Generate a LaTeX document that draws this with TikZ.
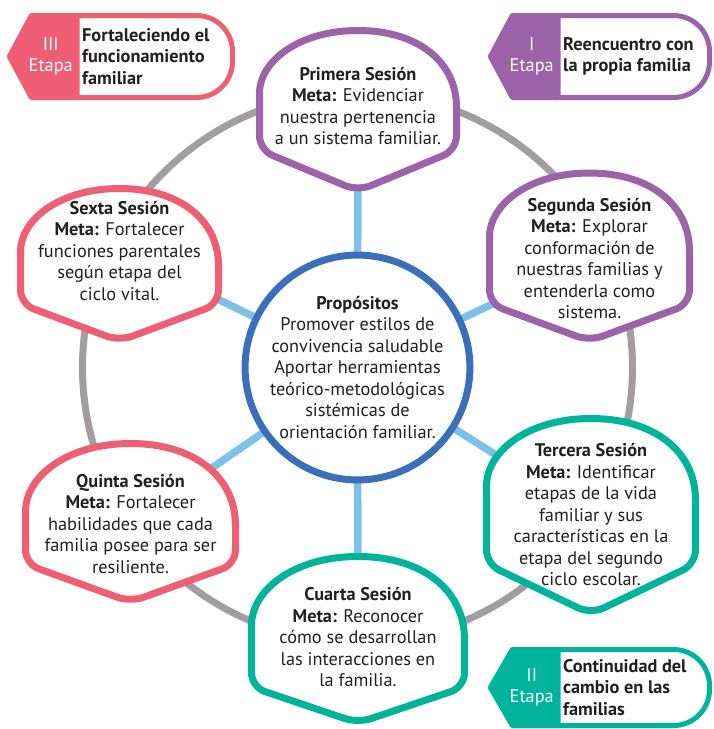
\documentclass[tikz,border=0pt]{standalone}
\usepackage{fontspec}
\setmainfont{PT Sans}
\usetikzlibrary{positioning,backgrounds}
\definecolor{ink}{HTML}{231F20}
\definecolor{purp}{HTML}{9C63A9}
\definecolor{rosa}{HTML}{EF5F73}
\definecolor{verde}{HTML}{00B49C}
\definecolor{azul}{HTML}{3A70B8}
\definecolor{celeste}{HTML}{7DC1EA}
\definecolor{gris}{HTML}{A29DA0}

\begin{document}
\begin{tikzpicture}[
  x=1pt,y=-1pt,
  font=\fontsize{18.3}{21.5}\selectfont,
  sesion/.style={draw=#1,fill=white,line width=7pt,line join=round},
  txt/.style={text=ink,align=center,inner sep=0pt},
  prop/.style={circle,draw=azul,fill=white,line width=7pt,minimum size=218pt,
               inner sep=0pt,text=ink,align=center},
  anillo/.style={draw=gris,line width=7pt},
  spoke/.style={draw=celeste,line width=7.5pt},
  etapa/.style={draw=#1,fill=white,line width=5pt,line join=round},
  num/.style={text=white,align=center,inner sep=0pt},
  tit/.style={text=ink,font=\fontsize{18.3}{21.5}\selectfont\bfseries,align=left,
              inner sep=0pt,anchor=west},
]
\useasboundingbox (0,0) rectangle (713,729);

%------------------------------------------------------------- proposito ---
\node[prop] (prop) at (357.5,367.5)
  {\textbf{Propósitos}\\Promover estilos de\\convivencia saludable\\Aportar herramientas\\
   teórico-metodológicas\\sistémicas de\\orientación familiar.};

%-------------------------------------------------------------- sesiones ---
\foreach \i/\col/\xc/\ytxt/\ytop/\yside/\ytip/\hw/\txt in {
  1/purp/358/106/30.5/150/191/98.5/{\textbf{Primera Sesión}\\\textbf{Meta:} Evidenciar\\nuestra pertenencia\\a un sistema familiar.},
  2/purp/589.5/258.5/173/304/341/100/{\textbf{Segunda Sesión}\\\textbf{Meta:} Explorar\\conformación de\\nuestras familias y\\entenderla como\\sistema.},
  3/verde/591/515/418.5/564/614/104.5/{\textbf{Tercera Sesión}\\\textbf{Meta:} Identificar\\etapas de la vida\\familiar y sus\\características en la\\etapa del segundo\\ciclo escolar.},
  4/verde/358/637.5/556.5/687/723/106.5/{\textbf{Cuarta Sesión}\\\textbf{Meta:} Reconocer\\cómo se desarrollan\\las interacciones en\\la familia.},
  5/rosa/130.5/524/443.5/564/602/105/{\textbf{Quinta Sesión}\\\textbf{Meta:} Fortalecer\\habilidades que cada\\familia posee para ser\\resiliente.},
  6/rosa/119.5/251/188.5/304/341/99/{\textbf{Sexta Sesión}\\\textbf{Meta:} Fortalecer\\funciones parentales\\según etapa del\\ciclo vital.}}{
  \pgfmathsetmacro{\domeh}{0.78*\hw}
  \draw[sesion=\col] ({\xc-\hw},{\ytop+\domeh})
    .. controls +(0,{-0.6*\domeh}) and +({-0.6*\hw},0) .. (\xc,\ytop)
    .. controls +({0.6*\hw},0) and +(0,{-0.6*\domeh}) .. ({\xc+\hw},{\ytop+\domeh})
    [rounded corners=14pt] -- ({\xc+\hw},\yside) -- (\xc,\ytip) -- ({\xc-\hw},\yside) -- cycle;
  \node[txt] (ses\i) at (\xc,\ytxt) {\txt};
}

%------------------------------------------------------- anillo + rayos ---
\begin{scope}[on background layer]
  \draw[anillo] (prop.center) circle (275pt);
  \foreach \i in {1,...,6}{\draw[spoke] (prop.center) -- (ses\i.center);}
\end{scope}

%---------------------------------------------------------------- etapas ---
\foreach \i/\col/\xa/\ytop/\ybot/\xb/\xe/\rom/\txt in {
  3/rosa/9.5/15.5/97.5/77/232.5/III/{Fortaleciendo el\\funcionamiento\\familiar},
  1/purp/490.5/15.5/97.5/558/709.5/I/{Reencuentro con\\la propia familia},
  2/verde/490.5/649.5/725.5/558/709.5/II/{Continuidad del\\cambio en las\\familias}}{
  \pgfmathsetmacro{\ym}{(\ytop+\ybot)/2}
  \draw[etapa=\col] ({\xa+22},\ytop) -- ({\xe-36},\ytop)
    arc[start angle=-90,end angle=0,radius=36] -- (\xe,{\ybot-36})
    arc[start angle=0,end angle=90,radius=36] -- ({\xa+22},\ybot) -- (\xa,\ym) -- cycle;
  \filldraw[\col,line width=5pt,line join=round] (\xa,\ym) -- ({\xa+22},\ytop) -- (\xb,\ytop)
    -- (\xb,\ybot) -- ({\xa+22},\ybot) -- cycle;
  \node[num] (num\i) at ({(\xa+15+\xb)/2},\ym) {\rom\\Etapa};
  \node[tit] (tit\i) at ({\xb+5},\ym) {\txt};
}

\end{tikzpicture}
\end{document}
